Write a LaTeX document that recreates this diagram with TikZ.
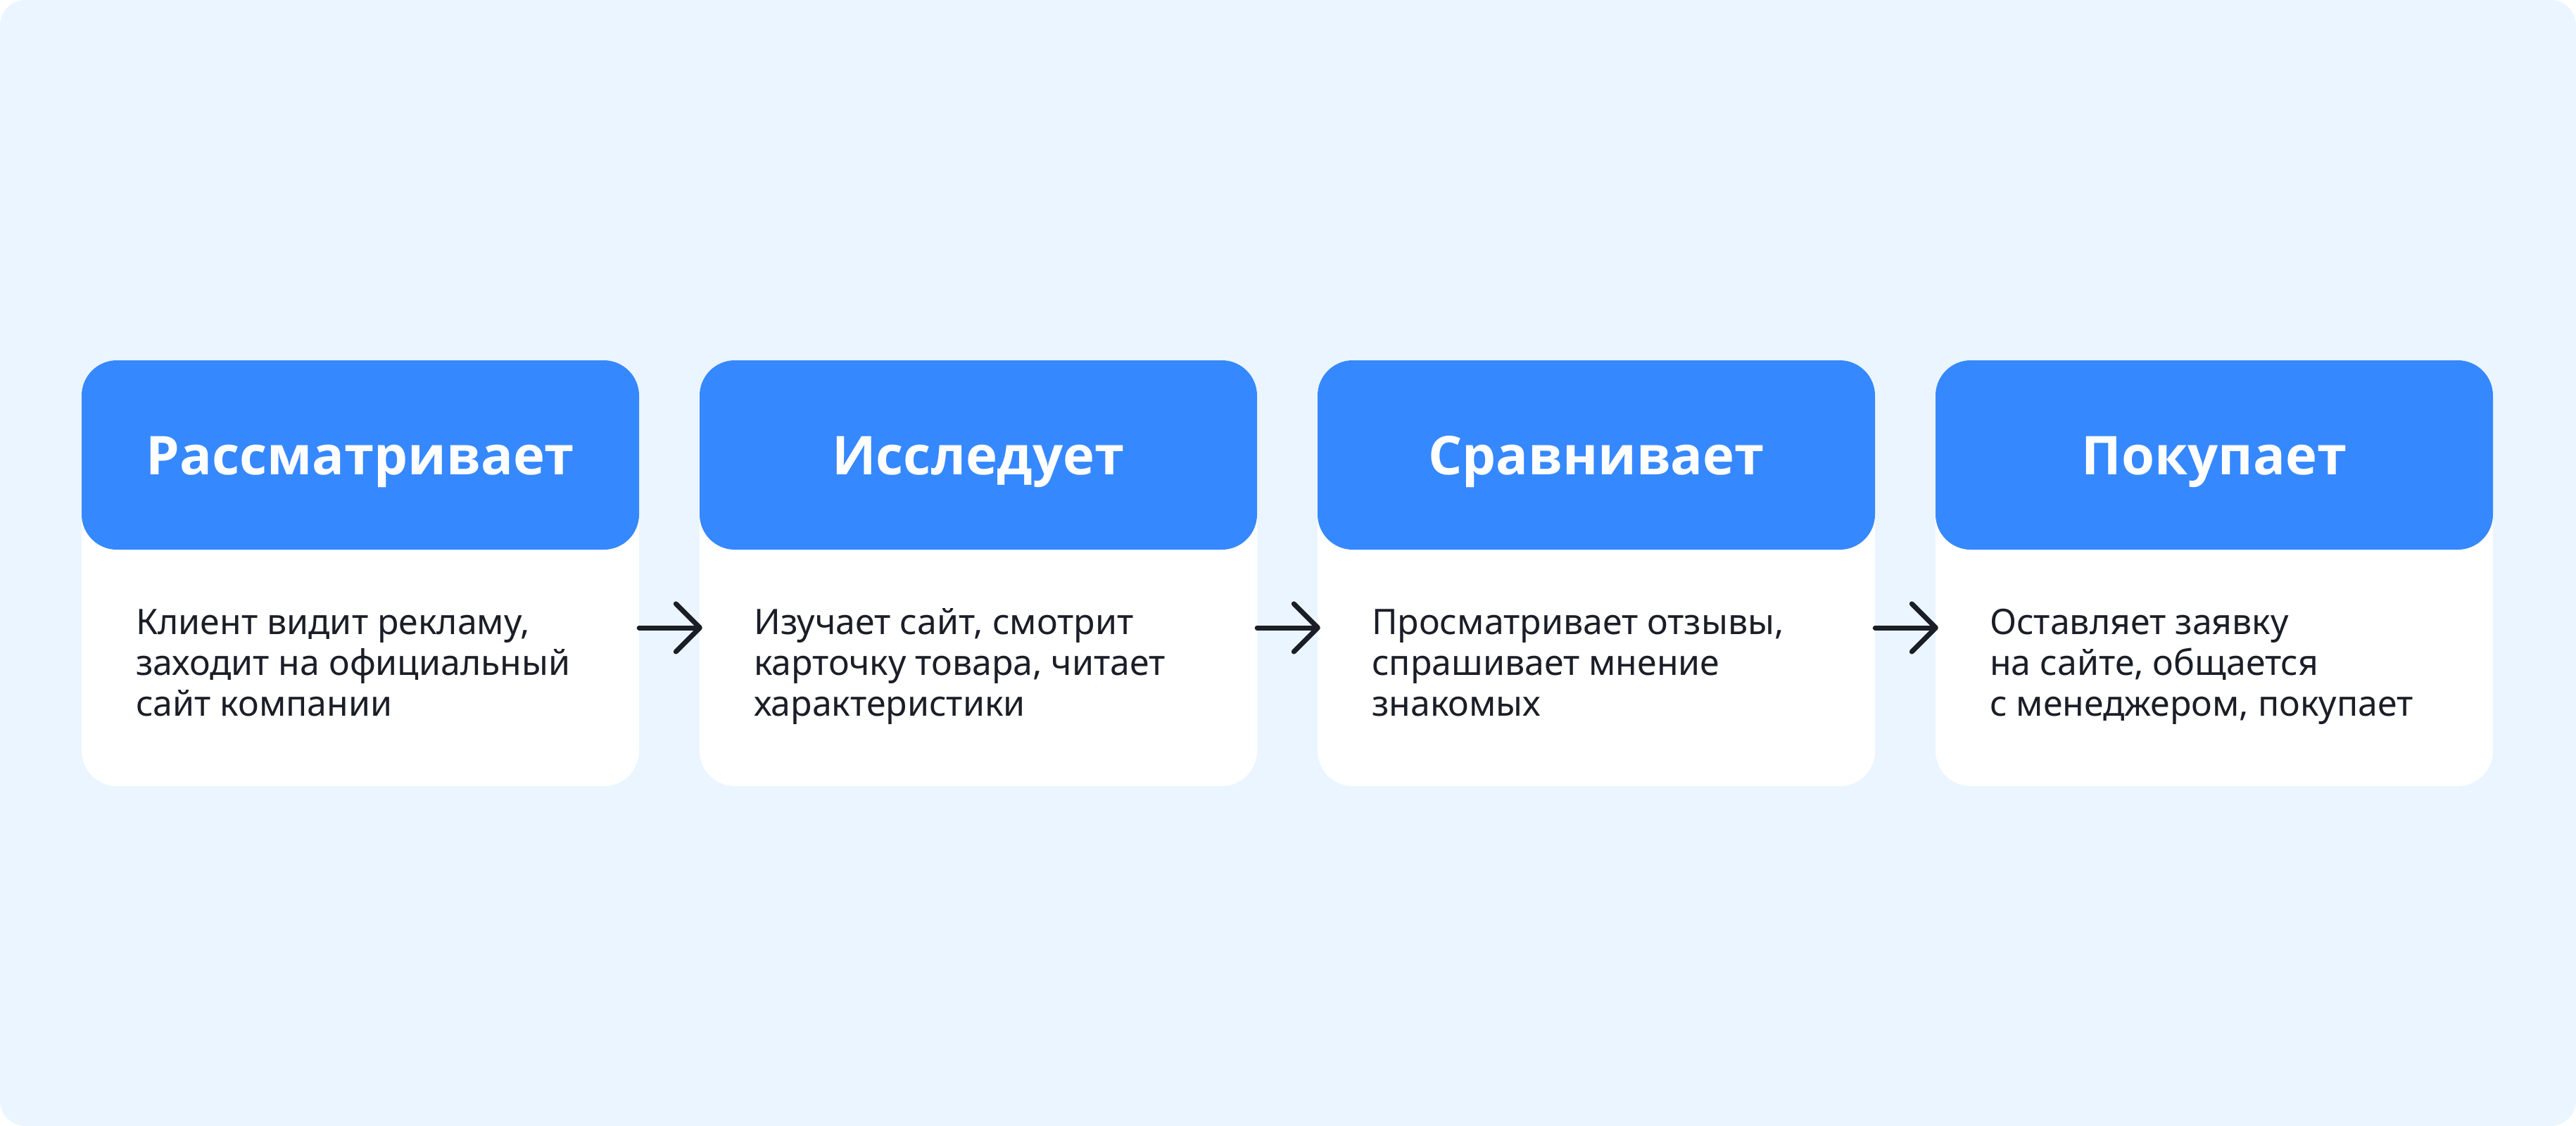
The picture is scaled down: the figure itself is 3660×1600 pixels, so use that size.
\documentclass[tikz,border=0pt]{standalone}
\usepackage{fontspec}
\setmainfont{Noto Sans}
\newfontfamily\titlefont{Open Sans}
\usetikzlibrary{arrows.meta}
\definecolor{bgblue}{HTML}{EBF5FF}
\definecolor{headblue}{HTML}{3688FF}
\definecolor{ink}{HTML}{1B1E27}
\tikzset{
  card/.style={fill=white, rounded corners=50pt, minimum width=792pt, minimum height=605pt, inner sep=0pt, draw=none},
  head/.style={fill=headblue, rounded corners=50pt, minimum width=792pt, minimum height=269pt, inner sep=0pt, draw=none},
  title/.style={text=white, font=\titlefont\bfseries\fontsize{76}{90}\selectfont, anchor=base, inner sep=0pt},
  body/.style={text=ink, font=\fontsize{50}{58}\selectfont, anchor=base west, align=left, inner sep=0pt},
  flow/.style={draw=ink, line width=7pt, line cap=round, -{Straight Barb[length=34pt, width=68pt, line width=7pt, round]}, shorten >=-4pt}
}
\begin{document}
\begin{tikzpicture}[x=1pt, y=-1pt]
\useasboundingbox (0,0) rectangle (3660,1600);
\fill[bgblue, rounded corners=36pt] (0,0) rectangle (3660,1600);
% cards
\foreach \i/\L in {1/116, 2/994, 3/1872, 4/2750} {
  \node[card] (c\i) at (\L+396, 814.5) {};
  \node[head] (h\i) at (\L+396, 646.5) {};
}
\node[title] (t1) at (512, 674) {Рассматривает};
\node[title] (t2) at (1390, 674) {Исследует};
\node[title] (t3) at (2268, 674) {Сравнивает};
\node[title] (t4) at (3146, 674) {Покупает};
\node[body] (b1) at (193, 1017) {Клиент видит рекламу,\\заходит на официальный\\сайт компании};
\node[body] (b2) at (1071, 1017) {Изучает сайт, смотрит\\карточку товара, читает\\характеристики};
\node[body] (b3) at (1949, 1017) {Просматривает отзывы,\\спрашивает мнение\\знакомых};
\node[body] (b4) at (2827, 1017) {Оставляет заявку\\на сайте, общается\\с менеджером, покупает};
% arrows
\foreach \a/\b in {1/2, 2/3, 3/4} {
  \draw[flow] ([yshift=-77.5pt]c\a.east) -- ([yshift=-77.5pt]c\b.west);
}
\end{tikzpicture}
\end{document}
